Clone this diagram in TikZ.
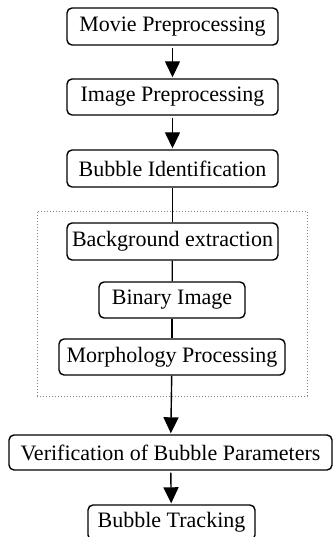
\documentclass[tikz,border=0pt]{standalone}
\usepackage{fontspec}
\setmainfont{Liberation Serif}
\usetikzlibrary{arrows.meta}
\begin{document}
\begin{tikzpicture}[x=1pt,y=-1pt,
  stepbox/.style={draw,line width=1.4pt,rounded corners=5pt,inner sep=0pt,
    minimum height=36pt,font=\fontsize{22}{26}\selectfont},
  arr/.style={line width=1.4pt,-{Triangle[width=15pt,length=16pt]},shorten <=2pt,shorten >=1pt},
  link/.style={line width=1.2pt},
  groupbox/.style={draw=gray,dotted,line width=1pt,inner sep=0pt}]
\useasboundingbox (0,0) rectangle (333,537);
\node[groupbox,minimum width=270pt,minimum height=185pt] (group) at (172,303.5) {};
\node[stepbox,minimum width=211pt,minimum height=37pt] (movie) at (172.5,26.5) {Movie Preprocessing};
\node[stepbox,minimum width=211pt] (image) at (172.5,97) {Image Preprocessing};
\node[stepbox,minimum width=211pt,minimum height=37pt] (ident) at (172.5,168.5) {Bubble Identification};
\node[stepbox,minimum width=211pt,minimum height=37pt] (back) at (172.5,241.5) {Background extraction};
\node[stepbox,minimum width=146pt] (binary) at (172,300) {Binary Image};
\node[stepbox,minimum width=226pt] (morph) at (172,357) {Morphology Processing};
\node[stepbox,minimum width=323pt,minimum height=35pt] (verif) at (170.5,452.5) {Verification of Bubble Parameters};
\node[stepbox,minimum width=167pt,minimum height=35pt] (track) at (171.5,522.5) {Bubble Tracking};
\draw[arr] (movie) -- (image);
\draw[arr] (image) -- (ident);
\draw[link] (ident) -- (back);
\draw[link] (back) -- (binary);
\draw[link] (binary) -- (morph);
\draw[arr,shorten <=0pt] (morph) -- (verif);
\draw[arr] (verif) -- (track);
\end{tikzpicture}
\end{document}
